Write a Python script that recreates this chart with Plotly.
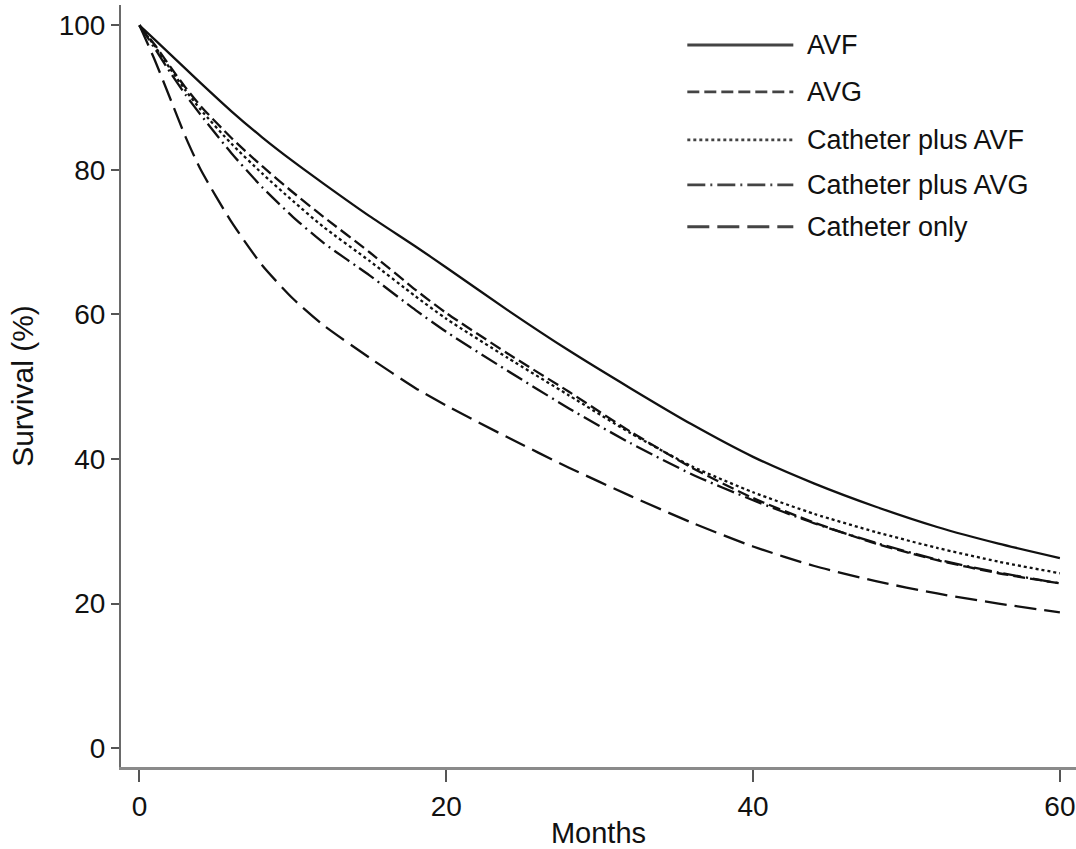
import plotly.graph_objects as go

months = [0, 1, 2, 3, 4, 6, 8, 10, 12, 15, 18, 20, 24, 28, 32, 36, 40, 44, 48, 52, 56, 60]

avf = [100, 98.0, 96.0, 94.0, 92.0, 88.1, 84.5, 81.2, 78.1, 73.6, 69.4, 66.5, 60.6, 55.0, 49.8, 44.8, 40.3, 36.6, 33.4, 30.6, 28.3, 26.3]
avg = [100, 97.3, 94.3, 91.4, 88.8, 84.4, 80.5, 76.9, 73.5, 68.6, 63.4, 60.2, 54.6, 49.3, 43.8, 38.8, 34.6, 31.2, 28.3, 26.0, 24.2, 22.8]
cath_avf = [100, 97.1, 94.0, 91.0, 88.3, 83.6, 79.5, 75.7, 72.1, 67.4, 62.5, 59.4, 54.0, 48.8, 43.6, 39.0, 35.4, 32.4, 29.9, 27.7, 25.8, 24.2]
cath_avg = [100, 96.8, 93.5, 90.4, 87.6, 82.3, 77.6, 73.5, 69.9, 65.4, 60.6, 57.6, 52.2, 47.0, 42.2, 37.9, 34.3, 31.1, 28.4, 26.1, 24.3, 22.8]
cath_only = [100, 95.2, 89.9, 84.6, 80.0, 72.8, 66.8, 62.2, 58.5, 54.0, 49.8, 47.4, 43.0, 38.8, 34.9, 31.2, 27.9, 25.2, 23.1, 21.4, 20.0, 18.8]

names = ["AVF", "AVG", "Catheter plus AVF", "Catheter plus AVG", "Catheter only"]
series = [avf, avg, cath_avf, cath_avg, cath_only]
dashes = ["solid", "12px,5px", "3px,3px", "18px,5px,2px,5px", "22px,8px"]

x_ticks = [0, 20, 40, 60]
y_ticks = [0, 20, 40, 60, 80, 100]

FONT = "Liberation Sans, Arial, Helvetica, sans-serif"
INK = "#111111"

fig = go.Figure()
for name, ys, dash in zip(names, series, dashes):
    fig.add_trace(go.Scatter(
        x=months, y=ys, mode="lines", name=name,
        line=dict(color=INK, width=2.3, dash=dash, shape="spline", smoothing=0.6),
        showlegend=False,
    ))

# custom legend (long line samples like the original)
leg_y = [0.9475, 0.886, 0.823, 0.764, 0.709]
for name, dash, yy in zip(names, dashes, leg_y):
    fig.add_shape(type="line", xref="paper", yref="paper",
                  x0=0.593, x1=0.704, y0=yy, y1=yy,
                  line=dict(color="#444444", width=2.8, dash=dash))
    fig.add_annotation(xref="paper", yref="paper", x=0.716, y=yy,
                       text=name, showarrow=False, xanchor="left", yanchor="middle",
                       font=dict(family=FONT, size=27, color=INK))

fig.update_layout(
    width=1076, height=849,
    margin=dict(l=121, r=0, t=5, b=82),
    paper_bgcolor="white", plot_bgcolor="white",
    font=dict(family=FONT, color=INK),
)
fig.update_xaxes(
    automargin=False,
    range=[-1.2, 61.05], tickvals=x_ticks, ticktext=[str(v) for v in x_ticks],
    showgrid=False, zeroline=False,
    showline=True, linecolor="#8a8a8a", linewidth=3,
    ticks="outside", ticklen=12, tickwidth=1.5, tickcolor="#555555",
    tickfont=dict(family=FONT, size=28, color=INK),
    title=dict(text="Months", font=dict(family=FONT, size=29, color=INK), standoff=13),
)
fig.update_yaxes(
    automargin=False,
    range=[-2.6, 102.8], tickvals=y_ticks, ticktext=[str(v) for v in y_ticks],
    showgrid=False, zeroline=False,
    showline=True, linecolor="#6a6a6a", linewidth=2,
    ticks="outside", ticklen=8, tickwidth=1.5, tickcolor="#555555",
    tickfont=dict(family=FONT, size=28, color=INK),
    title=dict(text="Survival (%)", font=dict(family=FONT, size=30, color=INK), standoff=16),
)

fig.write_html("out.html", config={"displayModeBar": False},
               post_script="document.body.style.margin='0';")
